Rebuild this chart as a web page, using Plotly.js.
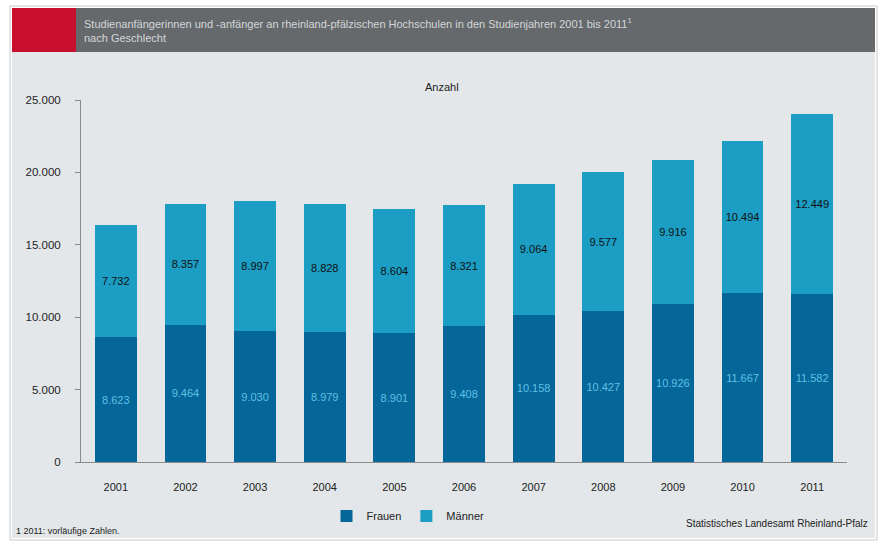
<!DOCTYPE html>
<html><head><meta charset="utf-8">
<script src="https://cdn.plot.ly/plotly-3.0.1.min.js"></script>
<style>html,body{margin:0;padding:0;background:#fff;}#chart{width:885px;height:543px;}</style>
</head><body><div id="chart"></div>
<script>
const years = ['2001','2002','2003','2004','2005','2006','2007','2008','2009','2010','2011'];
const frauen = [8623, 9464, 9030, 8979, 8901, 9408, 10158, 10427, 10926, 11667, 11582];
const maenner = [7732, 8357, 8997, 8828, 8604, 8321, 9064, 9577, 9916, 10494, 12449];
const yTicks = [0, 5000, 10000, 15000, 20000, 25000];

// pixel -> paper helpers (plot area x 81..847, y 100..462)
const L = 81, R = 847, T = 100, B = 462;
const px = x => (x - L) / (R - L);
const py = y => (B - y) / (B - T);

const font = 'Liberation Sans, Arial, sans-serif';

const traces = [
  {type:'bar', name:'Frauen', x:years, y:frauen, marker:{color:'#05669a'},
   texttemplate:'%{y:,.0f}', textposition:'inside', insidetextanchor:'middle', textangle:0,
   constraintext:'none', textfont:{color:'#5fc0e2', size:11, family:font}, hoverinfo:'y+name'},
  {type:'bar', name:'Männer', x:years, y:maenner, marker:{color:'#1b9dc4'},
   texttemplate:'%{y:,.0f}', textposition:'inside', insidetextanchor:'middle', textangle:0,
   constraintext:'none', textfont:{color:'#111111', size:11, family:font}, hoverinfo:'y+name'}
];

const layout = {
  width:885, height:543,
  margin:{l:L, r:885-R, t:T, b:543-B},
  paper_bgcolor:'#ffffff', plot_bgcolor:'rgba(0,0,0,0)',
  separators:',.',
  barmode:'stack', bargap:0.4,
  font:{family:font, size:11, color:'#222'},
  showlegend:true,
  legend:{orientation:'h', x:px(408), xanchor:'center', y:py(516), yanchor:'middle',
          font:{size:11, color:'#222'}, bgcolor:'rgba(0,0,0,0)', itemwidth:30, traceorder:'normal'},
  xaxis:{type:'category', showline:true, linecolor:'#8a8a8a', linewidth:1, ticks:'',
         ticklabelstandoff:15,
         tickfont:{size:11, color:'#222'}, showgrid:false, zeroline:false, fixedrange:true},
  yaxis:{range:[0,25000], tickvals:yTicks, tickformat:',.0f', showline:true, linecolor:'#8a8a8a',
         linewidth:1, ticks:'outside', ticklen:5, tickcolor:'#8a8a8a', showgrid:false, zeroline:false,
         ticklabelstandoff:12,
         tickfont:{size:11.5, color:'#222'}, fixedrange:true},
  shapes:[
    {type:'rect', xref:'paper', yref:'paper', x0:px(10), x1:px(877), y0:py(540), y1:py(6),
     fillcolor:'#ffffff', line:{color:'#c8c8c8', width:1}, layer:'below'},
    {type:'rect', xref:'paper', yref:'paper', x0:px(12), x1:px(875), y0:py(538), y1:py(52),
     fillcolor:'#e3e7e9', line:{width:0}, layer:'below'},
    {type:'rect', xref:'paper', yref:'paper', x0:px(12), x1:px(875), y0:py(52), y1:py(8),
     fillcolor:'#65696c', line:{width:0}, layer:'below'},
    {type:'rect', xref:'paper', yref:'paper', x0:px(12), x1:px(76), y0:py(52), y1:py(8),
     fillcolor:'#c8102e', line:{width:0}, layer:'below'}
  ],
  annotations:[
    {xref:'paper', yref:'paper', x:px(82), y:py(30), xanchor:'left', yanchor:'middle', align:'left',
     showarrow:false, font:{size:11, color:'#d4d6d8'},
     text:'Studienanfängerinnen und -anfänger an rheinland-pfälzischen Hochschulen in den Studienjahren 2001 bis 2011<sup>1</sup><br>nach Geschlecht'},
    {xref:'paper', yref:'paper', x:px(442), y:py(87), xanchor:'center', yanchor:'middle',
     showarrow:false, text:'Anzahl', font:{size:11, color:'#222'}},
    {xref:'paper', yref:'paper', x:px(14), y:py(531), xanchor:'left', yanchor:'middle',
     showarrow:false, text:'1 2011: vorläufige Zahlen.', font:{size:9, color:'#222'}},
    {xref:'paper', yref:'paper', x:px(870), y:py(523), xanchor:'right', yanchor:'middle',
     showarrow:false, text:'Statistisches Landesamt Rheinland-Pfalz', font:{size:10, color:'#222'}}
  ]
};

Plotly.newPlot('chart', traces, layout, {displayModeBar:false, staticPlot:true});
</script></body></html>
